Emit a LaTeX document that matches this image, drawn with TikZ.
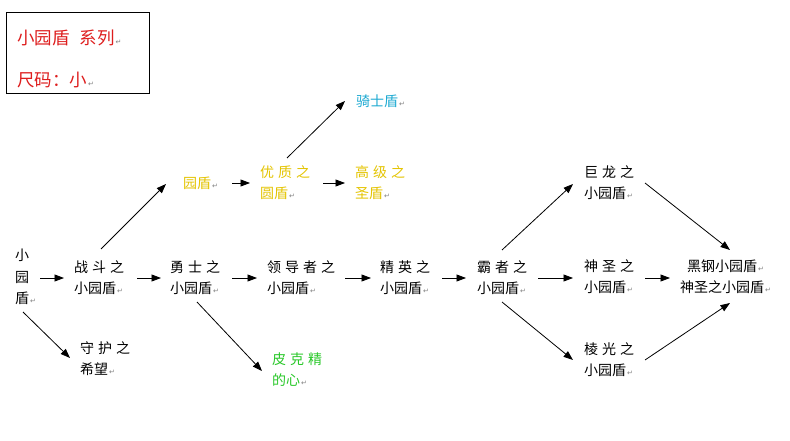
\documentclass[tikz,border=0pt]{standalone}
\usepackage{fontspec}
\setmainfont{Noto Sans CJK SC}
\newfontfamily\djv{DejaVu Sans}
\usetikzlibrary{arrows.meta}
\definecolor{goldtxt}{RGB}{228,196,0}
\definecolor{cyantxt}{RGB}{30,170,210}
\definecolor{greentxt}{RGB}{40,200,40}
\definecolor{redtxt}{RGB}{222,30,30}
\newcommand{\retmk}{\hspace{1pt}{\djv\fontsize{7}{7}\selectfont\textcolor{gray}{↵}}}
\newcommand{\gp}{\hspace{4pt}}
\tikzset{
  lbl/.style={anchor=west, inner sep=0pt, align=left, font=\fontsize{14}{21}\selectfont},
  ttl/.style={anchor=west, inner sep=0pt, text=redtxt, font=\fontsize{17.5}{20}\selectfont},
  arr/.style={-{Triangle[length=9.5pt,width=7pt]}, line width=0.8pt},
}
\begin{document}
\begin{tikzpicture}[x=1pt,y=-1pt]
\fill[white] (0,0) rectangle (790,441);
\useasboundingbox (0,0) rectangle (790,441);
% title box
\node[draw, line width=0.8pt, anchor=north west, minimum width=143pt, minimum height=81pt, inner sep=0pt] (titlebox) at (6,12) {};
\node[ttl] (t1) at (17,38) {小园盾\hspace{10pt}系列\retmk};
\node[ttl] (t2) at (17,80) {尺码：小\retmk};
% nodes
\node[lbl, font=\fontsize{14}{21.5}\selectfont] (n0) at (15,277) {小\\园\\盾\retmk};
\node[lbl] (a) at (74,277.5) {战\gp 斗\gp 之\\小园盾\retmk};
\node[lbl] (b) at (170,277.5) {勇\gp 士\gp 之\\小园盾\retmk};
\node[lbl] (c) at (267,277.5) {领\gp 导\gp 者\gp 之\\小园盾\retmk};
\node[lbl] (d) at (380,277.5) {精\gp 英\gp 之\\小园盾\retmk};
\node[lbl] (e) at (477,277.5) {霸\gp 者\gp 之\\小园盾\retmk};
\node[lbl] (f) at (584,277) {神\gp 圣\gp 之\\小园盾\retmk};
\node[lbl, align=center] (g) at (680,277) {黑钢小园盾\retmk\\神圣之小园盾\retmk};
\node[lbl] (h) at (584,183) {巨\gp 龙\gp 之\\小园盾\retmk};
\node[lbl] (i) at (584,360) {棱\gp 光\gp 之\\小园盾\retmk};
\node[lbl] (j) at (80,359) {守\gp 护\gp 之\\希望\retmk};
\node[lbl, text=greentxt] (k) at (272,370) {皮\gp 克\gp 精\\的心\retmk};
\node[lbl, text=goldtxt] (l) at (183,183) {园盾\retmk};
\node[lbl, text=goldtxt] (m) at (260,183) {优\gp 质\gp 之\\圆盾\retmk};
\node[lbl, text=goldtxt] (o) at (355,183) {高\gp 级\gp 之\\圣盾\retmk};
\node[lbl, text=cyantxt] (p) at (356,101) {骑士盾\retmk};
% arrows
\draw[arr] ([shift={(25,1)}]n0.west) -- ([shift={(-10,0.5)}]a.west);
\draw[arr] ([shift={(8,35)}]n0.west) -- ([shift={(-10,-1)}]j.west);
\draw[arr] ([shift={(27,-28.5)}]a.west) -- ([shift={(-17,1)}]l.west);
\draw[arr] ([shift={(63,0.5)}]a.west) -- ([shift={(-9,0.5)}]b.west);
\draw[arr] ([shift={(62,0.5)}]b.west) -- ([shift={(-10,0.5)}]c.west);
\draw[arr] ([shift={(27,24.5)}]b.west) -- ([shift={(-10,1)}]k.west);
\draw[arr] ([shift={(78,0.5)}]c.west) -- ([shift={(-9,0.5)}]d.west);
\draw[arr] ([shift={(62,0.5)}]d.west) -- ([shift={(-11,0.5)}]e.west);
\draw[arr] ([shift={(25,-27.5)}]e.west) -- ([shift={(-11,1)}]h.west);
\draw[arr] ([shift={(61,0.5)}]e.west) -- ([shift={(-11,1)}]f.west);
\draw[arr] ([shift={(25,24.5)}]e.west) -- ([shift={(-11,0)}]i.west);
\draw[arr] ([shift={(61,0)}]h.west) -- ([shift={(50,-27)}]g.west);
\draw[arr] ([shift={(61,1)}]f.west) -- ([shift={(-10,1)}]g.west);
\draw[arr] ([shift={(61,0)}]i.west) -- ([shift={(50,26)}]g.west);
\draw[arr] ([shift={(49,0)}]l.west) -- ([shift={(-10,0)}]m.west);
\draw[arr] ([shift={(63,0)}]m.west) -- ([shift={(-10,0)}]o.west);
\draw[arr] ([shift={(27,-25)}]m.west) -- ([shift={(-11,0)}]p.west);
\end{tikzpicture}
\end{document}
